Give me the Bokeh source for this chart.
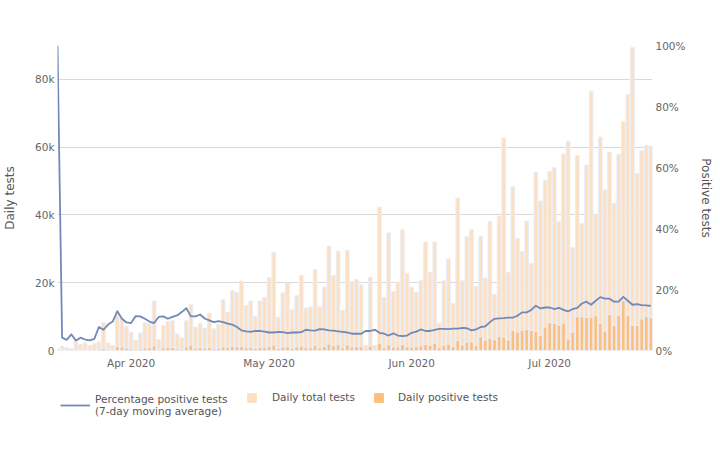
import numpy as np
import pandas as pd
from bokeh.plotting import figure
from bokeh.layouts import column
from bokeh.models import (Range1d, LinearAxis, FixedTicker, NumeralTickFormatter,
                          PrintfTickFormatter, DatetimeTickFormatter, MonthsTicker,
                          Legend, LegendItem, ColumnDataSource)
from bokeh.embed import file_html
from bokeh.resources import INLINE

start_date = "2020-03-16"

# Daily total tests (thousands), one per day from 16 Mar 2020
total_tests_k = [
    0.5, 1.3, 0.8, 0.5, 2.9, 1.8, 2.2, 1.5, 2.0, 2.5,
    8.2, 2.2, 1.5, 10.5, 9.6, 7.1, 5.4, 2.9, 5.2, 8.2,
    7.9, 14.6, 3.2, 7.4, 8.6, 8.8, 4.9, 3.7, 8.8, 13.5,
    6.9, 7.9, 6.6, 11.0, 6.4, 7.6, 15.0, 11.3, 17.7, 17.2,
    20.5, 13.3, 14.6, 10.0, 14.6, 15.7, 21.6, 29.0, 9.8, 17.0,
    19.9, 12.0, 16.2, 22.1, 12.5, 12.8, 23.9, 12.8, 18.7, 30.8,
    22.1, 29.3, 11.8, 29.5, 20.4, 21.0, 19.4, 1.5, 21.6, 1.5,
    42.3, 15.7, 34.7, 17.4, 20.2, 35.6, 22.8, 18.7, 17.2, 20.6,
    32.0, 23.1, 32.0, 8.0, 20.6, 27.0, 13.8, 45.0, 20.6, 33.6,
    35.7, 18.9, 33.7, 21.4, 38.1, 16.5, 39.6, 62.7, 23.0, 48.3,
    33.1, 29.2, 38.2, 25.7, 52.5, 44.1, 50.2, 52.9, 53.9, 38.0,
    58.0, 61.8, 30.4, 57.5, 37.5, 54.7, 76.5, 40.0, 63.0, 47.4,
    58.5, 43.4, 57.8, 67.6, 75.5, 89.4, 52.2, 59.0, 60.5, 60.3,
]

# Daily positive tests (thousands)
positive_tests_k = [
    0.1, 0.1, 0.1, 0.2, 0.1, 0.1, 0.1, 0.1, 0.1, 0.2,
    0.6, 0.2, 0.2, 1.2, 1.0, 0.7, 0.5, 0.3, 0.5, 0.8,
    0.8, 1.3, 0.3, 0.8, 0.9, 0.9, 0.5, 0.4, 1.0, 1.6,
    0.7, 0.9, 0.7, 0.9, 0.5, 0.6, 1.1, 0.8, 1.2, 1.1,
    1.2, 0.8, 0.9, 0.6, 0.9, 0.9, 1.2, 1.6, 0.6, 1.0,
    1.1, 0.7, 1.0, 1.3, 0.8, 0.8, 1.5, 0.8, 1.2, 1.9,
    1.4, 1.7, 0.8, 1.7, 1.1, 1.2, 1.1, 0.2, 1.3, 0.2,
    2.2, 0.9, 1.7, 1.0, 1.0, 1.7, 1.1, 1.0, 1.1, 1.4,
    1.8, 1.5, 2.2, 0.8, 1.5, 1.9, 1.2, 2.9, 1.6, 2.5,
    2.5, 1.5, 4.1, 3.0, 3.6, 3.2, 4.2, 3.9, 3.1, 6.0,
    5.5, 5.9, 6.2, 5.9, 5.6, 4.4, 6.9, 8.2, 8.0, 7.5,
    8.1, 3.4, 5.4, 10.0, 10.0, 9.8, 9.8, 10.3, 8.0, 5.7,
    10.6, 7.4, 10.3, 14.7, 10.3, 7.4, 7.4, 9.3, 10.0, 9.6,
]

# Percentage positive tests, 7-day moving average (%)
pct_positive = [
    100, 4.2, 3.5, 5.3, 3.3, 4.2, 3.6, 3.3, 3.8, 7.7,
    6.8, 8.5, 9.5, 12.9, 10.4, 9.2, 9.0, 11.3, 11.2, 10.4,
    9.5, 9.0, 11.0, 11.2, 10.4, 11.0, 11.5, 12.6, 13.9, 11.2,
    11.2, 11.8, 10.5, 9.9, 9.3, 9.6, 9.3, 8.8, 8.5, 7.7,
    6.6, 6.3, 6.1, 6.4, 6.4, 6.2, 5.9, 5.9, 6.1, 6.0,
    5.7, 5.9, 5.9, 6.0, 6.8, 6.6, 6.5, 7.0, 6.9, 6.6,
    6.5, 6.3, 6.1, 5.9, 5.5, 5.5, 5.5, 6.4, 6.4, 6.8,
    5.8, 5.5, 4.9, 5.6, 4.9, 4.7, 4.9, 5.8, 6.2, 6.9,
    6.4, 6.4, 6.8, 7.1, 7.1, 7.0, 7.2, 7.2, 7.4, 7.3,
    6.6, 6.9, 7.7, 7.9, 9.3, 10.4, 10.5, 10.6, 10.8, 10.8,
    11.4, 12.5, 12.5, 13.3, 14.7, 13.8, 14.1, 14.1, 13.6, 14.0,
    13.3, 12.8, 13.6, 14.0, 15.4, 16.0, 15.0, 16.3, 17.5, 17.0,
    17.0, 16.0, 16.0, 17.6, 16.3, 15.0, 15.2, 14.9, 14.8, 14.6,
]

left_ticks = [0, 20000, 40000, 60000, 80000]
right_ticks = [0, 20, 40, 60, 80, 100]

dates = pd.date_range(start_date, periods=len(total_tests_k), freq="D")
src = ColumnDataSource(dict(
    date=dates,
    total=np.array(total_tests_k) * 1000,
    pos=np.array(positive_tests_k) * 1000,
    pct=pct_positive,
))

FONT = "DejaVu Sans"
DAY = 86400000
C_LINE = "#7189b9"
C_TOTAL = "#fde0c2"
C_POS = "#fdbf7f"
C_EDGE = "#eaedf6"
W = 715

x0 = pd.Timestamp(start_date)
p = figure(width=W, height=372, x_axis_type="datetime",
           output_backend="svg", toolbar_location=None,
           x_range=Range1d(x0, x0 + pd.Timedelta(days=129.35)),
           y_range=Range1d(0, 90000),
           min_border_left=57, min_border_right=63,
           min_border_top=45, min_border_bottom=22)
p.outline_line_color = None
p.extra_y_ranges = {"pct": Range1d(0, 100)}

p.vbar(x="date", top="total", width=0.8 * DAY, source=src,
       fill_color=C_TOTAL, line_color=C_EDGE, line_width=1)
p.vbar(x="date", top="pos", width=0.8 * DAY, source=src,
       fill_color=C_POS, line_color=C_EDGE, line_width=1)
p.line(x="date", y="pct", source=src, y_range_name="pct",
       line_color=C_LINE, line_width=1.8, line_join="round")

p.xgrid.visible = False
p.ygrid.grid_line_color = "#d9d9d9"
p.ygrid.grid_line_width = 1

def style_axis(ax, label_standoff, title_standoff):
    ax.axis_line_color = None
    ax.major_tick_line_color = None
    ax.minor_tick_line_color = None
    ax.major_tick_out = 0
    ax.major_tick_in = 0
    ax.minor_tick_out = 0
    ax.minor_tick_in = 0
    ax.major_label_standoff = label_standoff
    ax.axis_label_standoff = title_standoff
    ax.major_label_text_font = FONT
    ax.major_label_text_font_size = "10.5px"
    ax.major_label_text_color = "#666666"
    ax.axis_label_text_font = FONT
    ax.axis_label_text_font_size = "12px"
    ax.axis_label_text_font_style = "normal"
    ax.axis_label_text_color = "#555555"

xa = p.xaxis[0]
xa.ticker = MonthsTicker(months=list(range(1, 13)))
xa.formatter = DatetimeTickFormatter(days="%b %Y", months="%b %Y", years="%b %Y")
style_axis(xa, 6, 0)

ya = p.yaxis[0]
ya.ticker = FixedTicker(ticks=left_ticks)
ya.formatter = NumeralTickFormatter(format="0a")
ya.axis_label = "Daily tests"
style_axis(ya, 3, 15)

ra = LinearAxis(y_range_name="pct", ticker=FixedTicker(ticks=right_ticks),
                formatter=PrintfTickFormatter(format="%d%%"),
                axis_label="Positive tests")
style_axis(ra, 3, 10)
p.add_layout(ra, "right")

# ---- legend strip below the chart ----
lf = figure(width=W, height=60, output_backend="svg", toolbar_location=None,
            x_range=Range1d(0, 1), y_range=Range1d(0, 1),
            x_axis_location=None, y_axis_location=None, min_border=0)
lf.outline_line_color = None
lf.xgrid.visible = False
lf.ygrid.visible = False
l_line = lf.line(x=[-5, -4], y=[-5, -5], line_color=C_LINE, line_width=1.8)
l_total = lf.vbar(x=[-5], top=[-4], bottom=-5, width=0.5,
                  fill_color=C_TOTAL, line_color=C_TOTAL)
l_pos = lf.vbar(x=[-5], top=[-4], bottom=-5, width=0.5,
                fill_color=C_POS, line_color=C_POS)

def make_legend(item, loc, gw, gh, standoff):
    lg = Legend(items=[item], location=loc, orientation="horizontal",
                glyph_width=gw, glyph_height=gh, label_standoff=standoff,
                padding=0, margin=0, spacing=0,
                border_line_color=None, background_fill_alpha=0)
    lg.label_text_font = FONT
    lg.label_text_font_size = "10.5px"
    lg.label_text_color = "#555555"
    return lg

lf.add_layout(make_legend(LegendItem(label="Percentage positive tests\n(7-day moving average)",
                                     renderers=[l_line]), (3, 14), 30, 26, 5), "center")
lf.add_layout(make_legend(LegendItem(label="Daily total tests", renderers=[l_total]),
                          (189, 29), 11, 11, 15), "center")
lf.add_layout(make_legend(LegendItem(label="Daily positive tests", renderers=[l_pos]),
                          (316, 29), 11, 11, 14), "center")

open("out.html", "w").write(file_html(column(p, lf, spacing=0), INLINE))
